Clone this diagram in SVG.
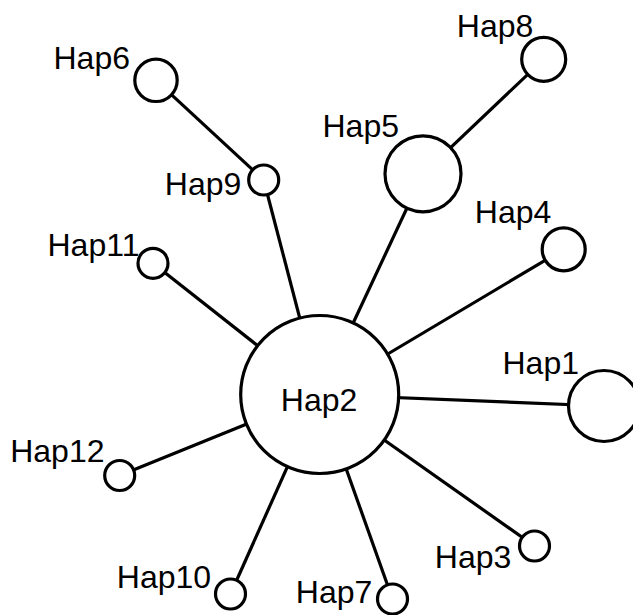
<svg xmlns="http://www.w3.org/2000/svg" width="633" height="615" viewBox="0 0 633 615">
<style>
.n{fill:#fff;stroke:#000;stroke-width:3.2}
.e{stroke:#000;stroke-width:3.2;fill:none}
text{font-family:"Liberation Sans",Arial,sans-serif;font-size:32px;fill:#000}
</style>
<rect width="633" height="615" fill="#fff"/>
<g id="edges">
<line class="e" x1="156" y1="80.3" x2="263.7" y2="180"/>
<line class="e" x1="263.7" y1="180" x2="319.7" y2="394.5"/>
<line class="e" x1="543.7" y1="59.3" x2="423" y2="173.8"/>
<line class="e" x1="423" y1="173.8" x2="319.7" y2="394.5"/>
<line class="e" x1="563.7" y1="249.3" x2="319.7" y2="394.5"/>
<line class="e" x1="153" y1="263.3" x2="319.7" y2="394.5"/>
<line class="e" x1="604" y1="406" x2="319.7" y2="394.5"/>
<line class="e" x1="119.7" y1="475.5" x2="319.7" y2="394.5"/>
<line class="e" x1="230.5" y1="594" x2="319.7" y2="394.5"/>
<line class="e" x1="392.5" y1="599" x2="319.7" y2="394.5"/>
<line class="e" x1="534.5" y1="546" x2="319.7" y2="394.5"/>
</g>
<g id="Hap2"><circle class="n" cx="319.7" cy="394.5" r="79"/><text x="280.8" y="411">Hap2</text></g>
<g id="Hap1"><circle class="n" cx="604" cy="406" r="35.5"/><text x="502.5" y="374">Hap1</text></g>
<g id="Hap3"><circle class="n" cx="534.5" cy="546" r="15"/><text x="434.8" y="568.3">Hap3</text></g>
<g id="Hap4"><circle class="n" cx="563.7" cy="249.3" r="21.5"/><text x="474.8" y="223.3">Hap4</text></g>
<g id="Hap5"><circle class="n" cx="423" cy="173.8" r="38"/><text x="322.5" y="137.3">Hap5</text></g>
<g id="Hap6"><circle class="n" cx="156" cy="80.3" r="21.2"/><text x="53.5" y="69">Hap6</text></g>
<g id="Hap7"><circle class="n" cx="392.5" cy="599" r="15"/><text x="295.8" y="602.7">Hap7</text></g>
<g id="Hap8"><circle class="n" cx="543.7" cy="59.3" r="22"/><text x="456.8" y="36.7">Hap8</text></g>
<g id="Hap9"><circle class="n" cx="263.7" cy="180" r="15"/><text x="164.8" y="195">Hap9</text></g>
<g id="Hap10"><circle class="n" cx="230.5" cy="594" r="15"/><text x="116.8" y="588.3">Hap10</text></g>
<g id="Hap11"><circle class="n" cx="153" cy="263.3" r="15"/><text x="47.5" y="256">Hap11</text></g>
<g id="Hap12"><circle class="n" cx="119.7" cy="475.5" r="15"/><text x="10.2" y="462.3">Hap12</text></g>
</svg>
